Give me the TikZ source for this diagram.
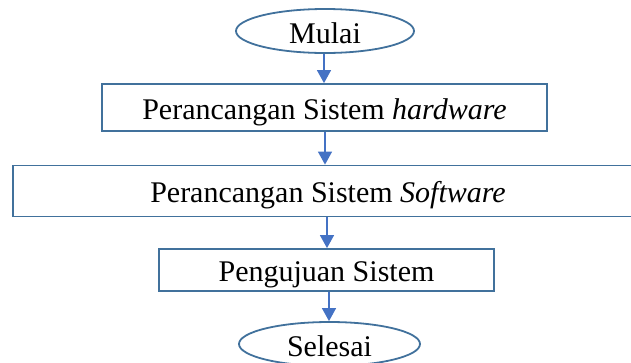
\documentclass[tikz,border=0pt]{standalone}
\usepackage{fontspec}
\setmainfont{Liberation Serif}
\usetikzlibrary{arrows.meta}
\usetikzlibrary{shapes.geometric}
\definecolor{outline}{HTML}{41719C}
\definecolor{arrowblue}{HTML}{4472C4}
\tikzset{terminal/.style = {draw = outline, line width = 1.8, ellipse, inner sep = 0,
    minimum width = 178, minimum height = 44, text height = 25, text depth = 0,
    font = \fontsize{30}{32}\selectfont}}
\tikzset{process/.style = {draw = outline, line width = 1.8, rectangle, inner sep = 0,
    text height = 23, text depth = 0, font = \fontsize{30}{32}\selectfont}}
\tikzset{flow/.style = {draw = arrowblue, line width = 1.3, -{Triangle[length = 13, width = 14]}}}

\begin{document}
\begin{tikzpicture}[x = 1pt, y = -1pt]
      \useasboundingbox (0, 0) rectangle (631, 362);
      \clip (0, 0) rectangle (631, 362);

      \node [terminal] at (325, 31) (mulai) {Mulai};
      \node [process, minimum width = 445, minimum height = 47] at (324.5, 107.5) (hardware) {Perancangan Sistem \textit{hardware}};
      \node [process, minimum width = 630, minimum height = 51] at (328, 191) (software) {Perancangan Sistem \textit{Software}};
      \node [process, minimum width = 335, minimum height = 42] at (326.5, 270) (uji) {Pengujuan Sistem};
      \node [terminal, minimum width = 181] at (329.5, 344) (selesai) {Selesai};

      \draw [flow] (mulai.south -| 324, 0) -- (hardware.north -| 324, 0);
      \draw [flow] (hardware.south -| 325, 0) -- (software.north -| 325, 0);
      \draw [flow] (software.south -| 327, 0) -- (uji.north -| 327, 0);
      \draw [flow] (uji.south -| 329, 0) -- (selesai.north -| 329, 0);
    \end{tikzpicture}
\end{document}
